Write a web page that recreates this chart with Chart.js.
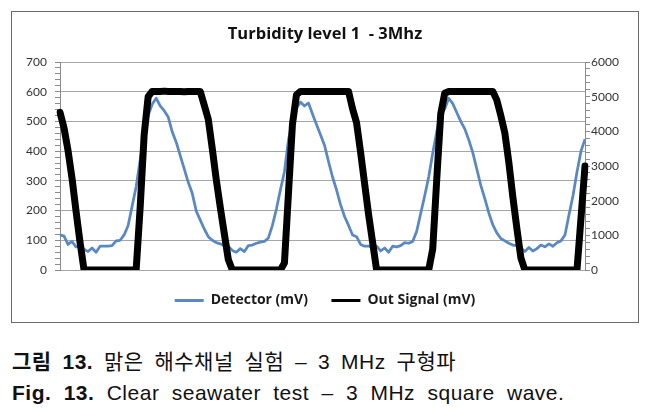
<!DOCTYPE html>
<html lang="ko">
<head>
<meta charset="utf-8">
<title>Turbidity level 1 - 3Mhz</title>
<script src="https://cdn.jsdelivr.net/npm/chart.js@4.4.1/dist/chart.umd.min.js"></script>
<style>
  html, body { margin: 0; padding: 0; background: #fff; }
  body { width: 658px; height: 409px; position: relative; overflow: hidden; }
  #chart-box {
    position: absolute; left: 11px; top: 11px;
    width: 626px; height: 310px;
    border: 1px solid #6b6b6b;
  }
  #chart-box canvas { display: block; }
  .caption {
    position: absolute; left: 12px;
    font-family: "Liberation Sans", Arial, "Noto Sans CJK KR", sans-serif;
    font-size: 21px; line-height: 23px; color: #111; white-space: nowrap;
  }
  #cap-ko { top: 350px; letter-spacing: 0.5px; word-spacing: 4.5px; }
  #cap-en { top: 381px; letter-spacing: 0.5px; word-spacing: 6px; }
</style>
</head>
<body>
<div id="chart-box">
  <canvas id="chart-turbidity" width="626" height="310"></canvas>
</div>
<div class="caption" id="cap-ko"><b>그림 13.</b> 맑은 해수채널 실험 – 3 MHz 구형파</div>
<div class="caption" id="cap-en"><b>Fig. 13.</b> Clear seawater test – 3 MHz square wave.</div>

<script>
// ── Data (one sample every ~4px of the original trace) ─────────────
const detectorMv = [
  118, 114, 86, 96, 78, 80, 70, 62, 74, 60, 80, 80,
  80, 82, 98, 100, 118, 150, 215, 280, 370, 455, 520, 558,
  578, 552, 536, 515, 465, 430, 385, 340, 295, 258, 198, 168,
  138, 112, 100, 92, 88, 82, 80, 66, 60, 72, 62, 82,
  84, 90, 94, 96, 108, 150, 205, 270, 330, 438, 500, 545,
  565, 552, 562, 525, 490, 455, 420, 365, 313, 270, 220, 180,
  150, 118, 112, 86, 80, 80, 78, 80, 64, 74, 60, 80,
  78, 82, 92, 90, 96, 130, 190, 250, 313, 393, 465, 530,
  542, 578, 560, 530, 500, 475, 438, 395, 340, 285, 240, 192,
  152, 125, 106, 98, 90, 84, 82, 74, 62, 76, 64, 72,
  84, 78, 88, 80, 92, 98, 118, 185, 250, 330, 400, 440,
];

const outSignalMv = [
  4550, 4100, 3450, 2650, 1700, 800, 0, 0, 0, 0, 0, 0,
  0, 0, 0, 0, 0, 0, 0, 0, 1800, 3900, 5000, 5150,
  5150, 5150, 5160, 5150, 5150, 5150, 5150, 5140, 5150, 5150, 5150, 5150,
  4750, 4350, 3500, 2600, 1800, 1050, 300, 0, 0, 0, 0, 0,
  0, 0, 0, 0, 0, 0, 0, 0, 200, 2200, 4200, 5050,
  5150, 5150, 5150, 5150, 5150, 5150, 5150, 5150, 5150, 5150, 5150, 5150,
  5150, 4650, 4250, 3400, 2500, 1600, 800, 0, 0, 0, 0, 0,
  0, 0, 0, 0, 0, 0, 0, 0, 0, 600, 2600, 4500,
  5100, 5150, 5150, 5150, 5150, 5150, 5150, 5150, 5150, 5150, 5150, 5150,
  5150, 4900, 4450, 3950, 3100, 2100, 1200, 350, 0, 0, 0, 0,
  0, 0, 0, 0, 0, 0, 0, 0, 0, 0, 1500, 3000,
];

const sampleIndex = detectorMv.map((_, i) => i);

const leftTicks = [0, 100, 200, 300, 400, 500, 600, 700];
const rightTicks = [0, 1000, 2000, 3000, 4000, 5000, 6000];

const tickFont = { family: "Lato, 'Open Sans', sans-serif", size: 12 };
const boldFont = "'Open Sans', Lato, sans-serif";
const gridGray = '#a6a6a6';
const axisGray = '#8c8c8c';

// ── Chart ──────────────────────────────────────────────────────────
const ctx = document.getElementById('chart-turbidity');

new Chart(ctx, {
  type: 'line',
  data: {
    labels: sampleIndex,
    datasets: [
      {
        label: 'Detector (mV)',
        data: detectorMv,
        yAxisID: 'y',
        borderColor: '#5a88c2',
        backgroundColor: '#5a88c2',
        borderWidth: 2.75,
        pointRadius: 0,
        tension: 0,
        borderJoinStyle: 'round',
        order: 2,
      },
      {
        label: 'Out Signal (mV)',
        data: outSignalMv,
        yAxisID: 'y1',
        borderColor: '#000000',
        backgroundColor: '#000000',
        borderWidth: 7,
        pointRadius: 0,
        tension: 0,
        borderJoinStyle: 'round',
        borderCapStyle: 'round',
        order: 1,
      },
    ],
  },
  options: {
    responsive: false,
    animation: false,
    devicePixelRatio: 1,
    layout: { padding: { left: 0, right: 0, top: 0, bottom: 4.5 } },
    plugins: {
      title: {
        display: true,
        text: 'Turbidity level 1  - 3Mhz',
        color: '#111111',
        font: { family: boldFont, size: 16.5, weight: 'bold' },
        padding: { top: 12, bottom: 18.2 },
      },
      legend: {
        position: 'bottom',
        labels: {
          color: '#1a1a1a',
          font: { family: boldFont, size: 14, weight: 'bold' },
          boxWidth: 29,
          boxHeight: 3,
          padding: 23.5,
          sort: (a, b) => a.datasetIndex - b.datasetIndex,
          generateLabels: chart => Chart.defaults.plugins.legend.labels
            .generateLabels(chart)
            .map(item => ({ ...item, fillStyle: item.strokeStyle, lineWidth: 0 })),
        },
      },
      tooltip: { enabled: false },
    },
    scales: {
      x: { type: 'category', display: false },
      y: {
        position: 'left',
        min: leftTicks[0],
        max: leftTicks[leftTicks.length - 1],
        afterFit: scale => { scale.width = 48; },
        ticks: {
          stepSize: 20,
          autoSkip: false,
          padding: 8,
          color: '#333333',
          font: tickFont,
          callback: v => (leftTicks.includes(v) ? v : ''),
        },
        grid: {
          color: c => (leftTicks.includes(c.tick.value) ? gridGray : 'rgba(0,0,0,0)'),
          tickColor: axisGray,
          tickLength: 5,
        },
        border: { color: axisGray },
      },
      y1: {
        position: 'right',
        min: rightTicks[0],
        max: rightTicks[rightTicks.length - 1],
        afterFit: scale => { scale.width = 53; },
        ticks: {
          stepSize: 200,
          autoSkip: false,
          padding: 1,
          color: '#333333',
          font: tickFont,
          callback: v => (rightTicks.includes(v) ? v : ''),
        },
        grid: {
          drawOnChartArea: false,
          tickColor: axisGray,
          tickLength: 5,
        },
        border: { color: axisGray },
      },
    },
  },
});
</script>
</body>
</html>
